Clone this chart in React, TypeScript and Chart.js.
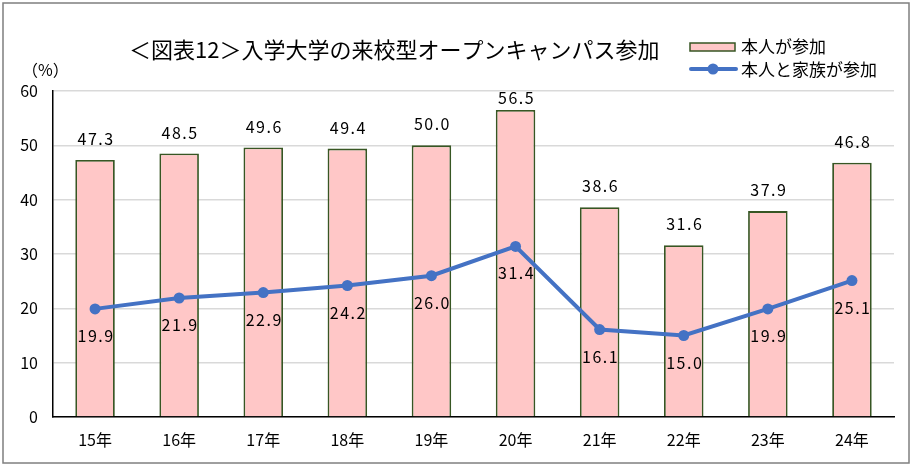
import React, { useEffect, useRef } from "react";
import { Chart, registerables } from "chart.js";

Chart.register(...registerables);

const categories = ["15年", "16年", "17年", "18年", "19年", "20年", "21年", "22年", "23年", "24年"];
const selfOnly = [47.3, 48.5, 49.6, 49.4, 50.0, 56.5, 38.6, 31.6, 37.9, 46.8];
const withFamily = [19.9, 21.9, 22.9, 24.2, 26.0, 31.4, 16.1, 15.0, 19.9, 25.1];
const seriesNames = ["本人が参加", "本人と家族が参加"];
const titleText = "＜図表12＞入学大学の来校型オープンキャンパス参加";
const unitText = "（%）";

const FONT = "'Noto Sans CJK JP', 'Noto Sans', sans-serif";
const BAR_FILL = "#FFC7C7";
const BAR_BORDER = "#375623";
const LINE_COLOR = "#4472C4";

const decorPlugin = {
  id: "decor",
  afterDraw(chart: any) {
    const ctx = chart.ctx as CanvasRenderingContext2D;
    ctx.save();
    // outer border
    ctx.strokeStyle = "#7F7F7F";
    ctx.lineWidth = 1.5;
    ctx.strokeRect(3, 3, 906, 460);

    // title
    ctx.fillStyle = "#000";
    ctx.font = `22px ${FONT}`;
    ctx.textAlign = "left";
    ctx.textBaseline = "middle";
    ctx.fillText(titleText, 129, 50);

    // unit
    ctx.font = `16px ${FONT}`;
    ctx.fillText(unitText, 22, 70);

    // legend
    ctx.fillStyle = BAR_FILL;
    ctx.fillRect(690, 43, 45, 8);
    ctx.strokeStyle = BAR_BORDER;
    ctx.lineWidth = 1.5;
    ctx.strokeRect(690, 43, 45, 8);
    ctx.strokeStyle = LINE_COLOR;
    ctx.lineWidth = 4;
    ctx.lineCap = "round";
    ctx.beginPath();
    ctx.moveTo(691, 69);
    ctx.lineTo(736, 69);
    ctx.stroke();
    ctx.fillStyle = LINE_COLOR;
    ctx.beginPath();
    ctx.arc(713, 69, 5.5, 0, Math.PI * 2);
    ctx.fill();
    ctx.fillStyle = "#000";
    ctx.font = `17px ${FONT}`;
    ctx.fillText(seriesNames[0], 741, 47);
    ctx.fillText(seriesNames[1], 741, 70);

    // data labels
    ctx.font = `16px ${FONT}`;
    (ctx as any).letterSpacing = "1.5px";
    ctx.textAlign = "center";
    const barMeta = chart.getDatasetMeta(0);
    barMeta.data.forEach((el: any, i: number) => {
      const y = Math.max(el.y - 21, 98);
      ctx.fillText(selfOnly[i].toFixed(1), el.x + 1, y);
    });
    const lineMeta = chart.getDatasetMeta(1);
    lineMeta.data.forEach((el: any, i: number) => {
      ctx.fillText(withFamily[i].toFixed(1), el.x + 1, el.y + 27);
    });
    ctx.restore();
  },
};

export default function App() {
  const ref = useRef<HTMLCanvasElement | null>(null);
  useEffect(() => {
    document.body.style.margin = "0";
    const canvas = ref.current!;
    const chart = new Chart(canvas, {
      type: "bar",
      data: {
        labels: categories,
        datasets: [
          {
            type: "bar",
            label: seriesNames[0],
            data: selfOnly,
            backgroundColor: BAR_FILL,
            borderColor: BAR_BORDER,
            borderWidth: 1.8,
            categoryPercentage: 1,
            barPercentage: 0.47,
            order: 2,
          },
          {
            type: "line",
            label: seriesNames[1],
            data: withFamily,
            borderColor: LINE_COLOR,
            backgroundColor: LINE_COLOR,
            borderWidth: 4,
            pointRadius: 5.5,
            pointBackgroundColor: LINE_COLOR,
            pointBorderWidth: 0,
            tension: 0,
            order: 1,
          } as any,
        ],
      },
      options: {
        responsive: false,
        animation: false,
        devicePixelRatio: 1,
        layout: { padding: { left: 0, right: 21, top: 91, bottom: 0 } },
        plugins: {
          legend: { display: false },
          title: { display: false },
          tooltip: { enabled: false },
        },
        scales: {
          x: {
            grid: { display: false, drawTicks: false },
            border: { color: "#000", width: 1.5 },
            ticks: {
              color: "#000",
              font: { family: FONT, size: 16 },
              padding: 13,
            },
            afterFit(scale: any) {
              scale.height = 52;
            },
          },
          y: {
            min: 0,
            max: 60,
            ticks: {
              stepSize: 10,
              color: "#000",
              font: { family: FONT, size: 16 },
              padding: 15,
            },
            grid: { color: "#D9D9D9", lineWidth: 1.5, drawTicks: false },
            border: { color: "#000", width: 1.5 },
            afterFit(scale: any) {
              scale.width = 53;
            },
          },
        },
      },
      plugins: [decorPlugin],
    });
    return () => chart.destroy();
  }, []);
  return (
    <div style={{ width: 915, height: 469 }}>
      <canvas ref={ref} width={915} height={469} style={{ display: "block" }} />
    </div>
  );
}
